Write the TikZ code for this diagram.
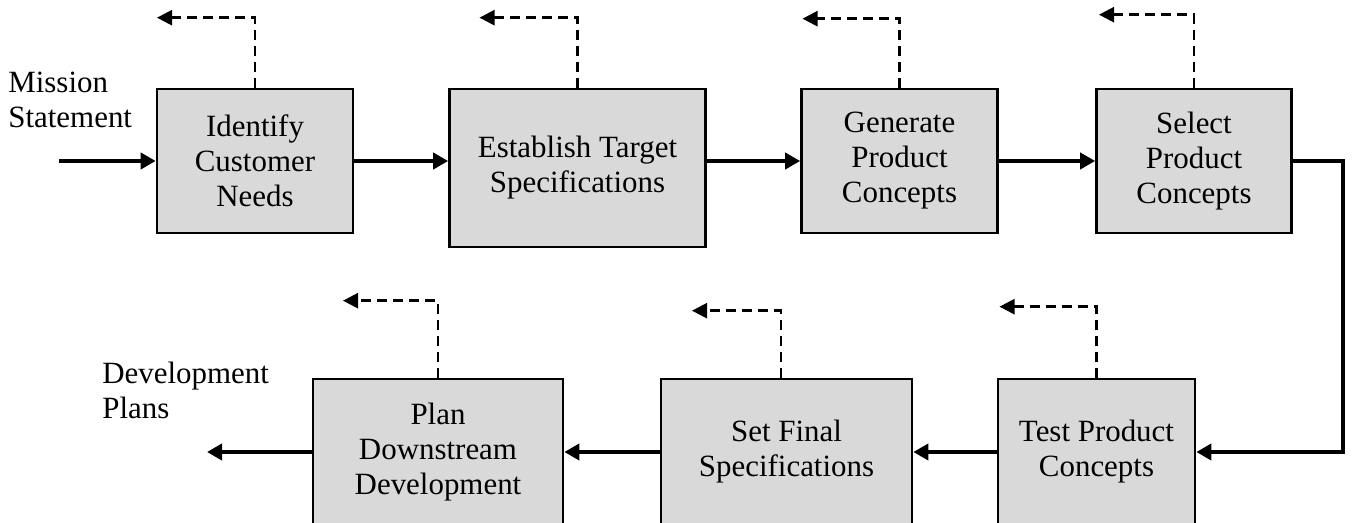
\documentclass[tikz,border=0pt]{standalone}
\usepackage{fontspec}
\setmainfont{Liberation Serif}
\usetikzlibrary{arrows.meta}
\definecolor{boxgray}{RGB}{217,217,217}

\begin{document}
\begin{tikzpicture}[node distance = 6.45cm,
    stage/.style = {draw, fill=boxgray, line width=1.5pt, align=center,
      minimum width=3.92cm, minimum height=2.88cm,
      font=\fontsize{17.6pt}{19.9pt}\selectfont},
    flow/.style = {line width=2.2pt, -{Triangle[length=0.3cm, width=0.32cm]}},
    back/.style = {line width=1.4pt, dash pattern=on 0.2cm off 0.12cm,
      -{Triangle[length=0.3cm, width=0.3cm]}},
    note/.style = {align=left, inner sep=0pt,
      font=\fontsize{17.6pt}{19.9pt}\selectfont}]
      \useasboundingbox (0,0) rectangle (27.04,10.44);
      \clip (0,0) rectangle (27.04,10.44);

      % upper row
      \node[stage] (identify) at (5.10,7.22) {Identify\\Customer\\Needs};
      \node[stage, minimum width=5.12cm, minimum height=3.16cm, yshift=-0.14cm] (establish) [right of = identify] {Establish Target\\Specifications};
      \node[stage, yshift=0.14cm] (generate) [right of = establish, node distance=6.44cm] {Generate\\Product\\Concepts};
      \node[stage, minimum width=3.9cm] (select) [right of = generate, node distance=5.89cm] {Select\\Product\\Concepts};

      % lower row
      \node[stage, minimum width=3.94cm, minimum height=2.92cm] (testing) at (21.93,1.4) {Test Product\\Concepts};
      \node[stage, minimum width=5.02cm, minimum height=2.92cm] (final) [left of = testing, node distance=6.2cm] {Set Final\\Specifications};
      \node[stage, minimum width=5.0cm, minimum height=2.92cm] (plan) [left of = final, node distance=6.97cm] {Plan\\Downstream\\Development};

      \node[note, anchor=north west] (mission) at (0.16,9.0) {Mission\\Statement};
      \node[note, anchor=north west] (plans) at (2.04,3.2) {Development\\Plans};

      \coordinate (in) at (1.18,7.22);
      \coordinate (turn) at (26.86,7.22);
      \coordinate (out) at (4.14,1.4);

      % main flow
      \draw[flow] (in) -- (identify);
      \draw[flow] (identify) -- (identify -| establish.west);
      \draw[flow] (establish.east |- generate) -- (generate);
      \draw[flow] (generate) -- (select);
      \draw[flow] (select) -- (turn) |- (testing);
      \draw[flow] (testing) -- (final);
      \draw[flow] (final) -- (plan);
      \draw[flow] (plan) -- (out);

      % feedback
      \draw[back] (identify.north) -- ++(0,1.4) -- ++(-1.96,0);
      \draw[back] (establish.north) -- ++(0,1.4) -- ++(-1.96,0);
      \draw[back] (generate.north) -- ++(0,1.38) -- ++(-1.94,0);
      \draw[back] (select.north) -- ++(0,1.46) -- ++(-1.9,0);
      \draw[back] (testing.north) -- ++(0,1.42) -- ++(-1.94,0);
      \draw[back] ([xshift=-0.11cm]final.north) -- ++(0,1.34) -- ++(-1.78,0);
      \draw[back] (plan.north) -- ++(0,1.54) -- ++(-1.9,0);
\end{tikzpicture}
\end{document}
